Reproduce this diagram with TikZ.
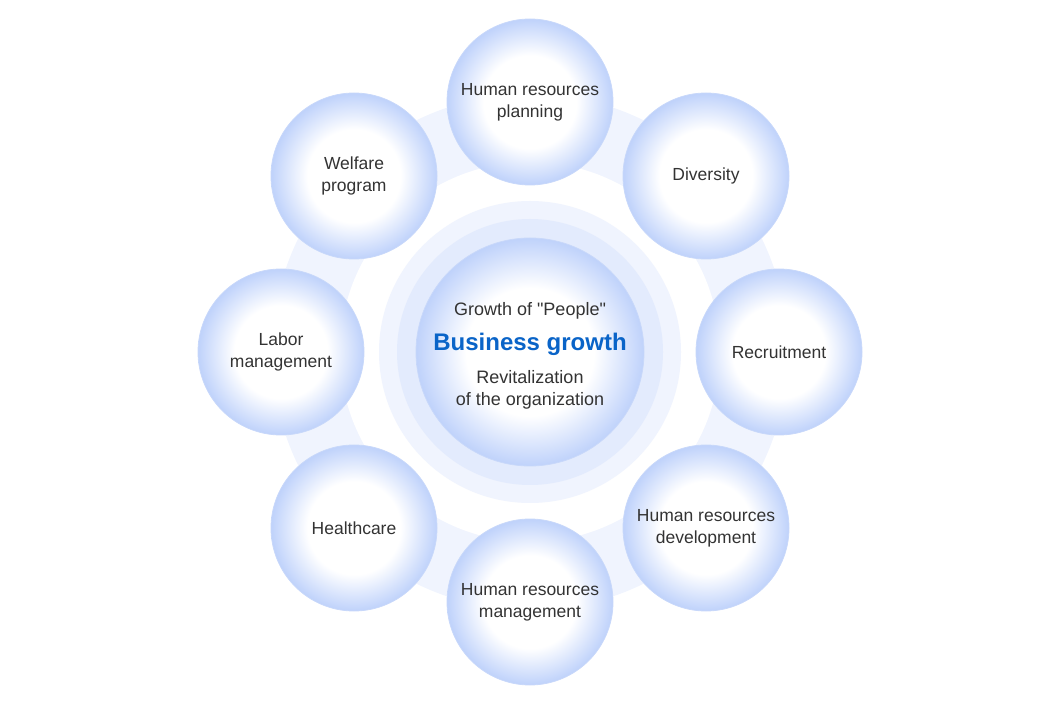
\documentclass[tikz,border=0pt]{standalone}
\usepackage{fontspec}
\setmainfont{Liberation Sans}[Ligatures=TeXOff]
\usetikzlibrary{positioning}
\definecolor{bubedge}{HTML}{BFD2FB}
\definecolor{bubline}{HTML}{C8D8FA}
\definecolor{ringpale}{HTML}{F0F4FE}
\definecolor{ringmid}{HTML}{E3EBFD}
\definecolor{txtgray}{HTML}{333333}
\definecolor{bizblue}{HTML}{0A64C8}
\pgfdeclareradialshading{bubble}{\pgfpoint{0bp}{0bp}}{color(0bp)=(white); color(14bp)=(white); color(25bp)=(bubedge); color(50bp)=(bubedge)}
\tikzset{
  bubble/.style={circle, minimum size=166pt, shading=bubble, draw=bubline, line width=0.8pt,
    align=center, text=txtgray, font=\fontsize{17.5}{22}\selectfont, inner sep=0pt},
}
\begin{document}
\begin{tikzpicture}[x=1pt,y=1pt]
\useasboundingbox (0,0) rectangle (1056,704);
% rings
\fill[ringpale] (530,352) circle (258);
\fill[white] (530,352) circle (190);
\fill[ringpale] (530,352) circle (151);
\fill[ringmid] (530,352) circle (133);
\node[bubble, minimum size=228pt] (core) at (530,352) {};
\node[text=txtgray, font=\fontsize{18}{22}\selectfont] (people) at (530,393) {Growth of "People"};
\node[text=bizblue, font=\bfseries\fontsize{24}{28}\selectfont] (biz) at (530,360) {Business growth};
\node[text=txtgray, align=center, font=\fontsize{18}{22}\selectfont] (org) at (530,314) {Revitalization\\of the organization};
% outer bubbles
\node[bubble] (plan) at (530,602) {Human resources\\planning};
\node[bubble] (div) at (706,528) {Diversity};
\node[bubble] (rec) at (779,352) {Recruitment};
\node[bubble] (dev) at (706,176) {Human resources\\development};
\node[bubble] (mgmt) at (530,102) {Human resources\\management};
\node[bubble] (health) at (354,176) {Healthcare};
\node[bubble] (labor) at (281,352) {Labor\\management};
\node[bubble] (welf) at (354,528) {Welfare\\program};
\end{tikzpicture}
\end{document}
